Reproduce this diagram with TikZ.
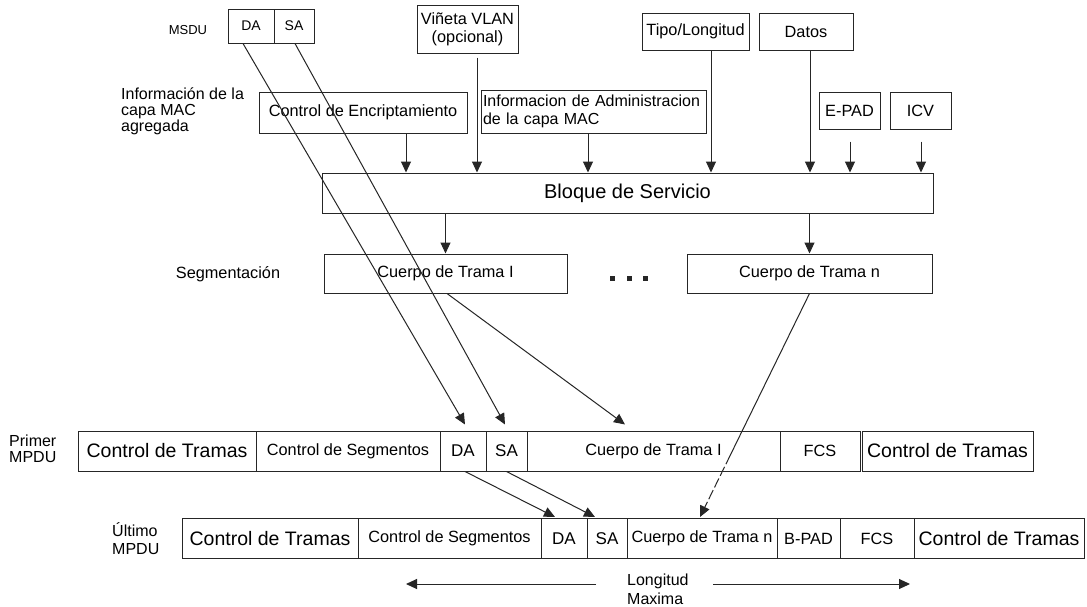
\documentclass[tikz,border=0pt]{standalone}
\usepackage{fontspec}
\setmainfont{Liberation Sans}
\usetikzlibrary{arrows.meta,calc}

\newcommand{\fsz}[1]{\fontsize{#1}{#1}\selectfont}

\tikzset{
  box/.style={draw=black!85, line width=1pt, inner sep=0pt, align=center, font=\fsz{16.3}},
  big/.style={font=\fsz{19.5}},
  arr/.style={draw=black!85, line width=1pt, -{Triangle[length=11pt,width=10pt]}},
  lbl/.style={align=left, anchor=west, inner sep=0pt},
}

\begin{document}
\begin{tikzpicture}[x=1pt,y=-1pt]
\fill[white] (0,0) rectangle (1087,606);
\useasboundingbox (0,0) rectangle (1087,606);

% MSDU header fields
\node[font=\fsz{13}] (msdu) at (188,30) {MSDU};
\node[box, minimum width=46pt, minimum height=34pt, font=\fsz{14}] (mda) at (251,26) {DA};
\node[box, minimum width=40pt, minimum height=34pt, font=\fsz{14}] (msa) at (294,26) {SA};
\node[box, minimum width=101pt, minimum height=48pt, font=\fontsize{16.3}{18}\selectfont] (vlan) at (467.5,29) {Viñeta VLAN\\(opcional)};
\node[box, minimum width=107pt, minimum height=37pt] (tipo) at (695.5,31.5) {Tipo/Longitud};
\node[box, minimum width=94pt, minimum height=37pt] (datos) at (806,31.5) {Datos};

% MAC information added
\node[lbl, font=\fontsize{16}{16}\selectfont] (info) at (121,111) {Información de la\\capa MAC\\agregada};
\node[box, minimum width=208pt, minimum height=41pt] (encr) at (363,112.5) {Control de Encriptamiento};
\node[box, text width=221pt, inner xsep=2pt, align=left, minimum height=43pt,
      font=\fontsize{16}{18.5}\selectfont] (admin) at (593.5,111.5)
      {\mbox{Informacion de Administracion}\\\mbox{de la capa MAC}};
\node[box, minimum width=61pt, minimum height=37pt] (epad) at (849.5,110.5) {E-PAD};
\node[box, minimum width=61pt, minimum height=37pt] (icv) at (920.5,110.5) {ICV};

% Service block
\node[box, minimum width=611pt, minimum height=40pt, font=\fsz{20}] (bloque) at (627.5,193) {Bloque de Servicio};

% Segmentation
\node[font=\fsz{16.3}] (seg) at (228,274) {Segmentación};
\node[box, minimum width=243pt, minimum height=39pt] (segI) at (445.5,273.5) {Cuerpo de Trama I};
\node[box, minimum width=245pt, minimum height=39pt] (segN) at (809.5,273.5) {Cuerpo de Trama n};
\foreach \x in {612.5,629,645.5}
  \fill[black!85] ({\x-2.5},275.5) rectangle ({\x+2.5},280.5);

% First MPDU
\node[lbl, font=\fontsize{16}{16}\selectfont] (primer) at (9,449) {Primer\\MPDU};
\node[box, big, minimum width=178pt, minimum height=40pt] (pCT) at (167,451) {Control de Tramas};
\node[box, minimum width=184pt, minimum height=40pt] (pCS) at (348,451) {Control de Segmentos};
\node[box, minimum width=46pt, minimum height=40pt, font=\fsz{17}] (pDA) at (463,451) {DA};
\node[box, minimum width=41pt, minimum height=40pt, font=\fsz{17}] (pSA) at (506.5,451) {SA};
\node[box, minimum width=253pt, minimum height=40pt] (pCI) at (653.5,451) {Cuerpo de Trama I};
\node[box, minimum width=80pt, minimum height=40pt] (pFCS) at (820,451) {FCS};
\node[box, big, minimum width=171pt, minimum height=40pt] (pCT2) at (947.5,451) {Control de Tramas};

% Last MPDU
\node[lbl, font=\fontsize{16}{18}\selectfont] (ultimo) at (112,539) {Último\\MPDU};
\node[box, big, minimum width=176pt, minimum height=40pt] (uCT) at (270,538.5) {Control de Tramas};
\node[box, minimum width=183pt, minimum height=40pt] (uCS) at (449.5,538.5) {Control de Segmentos};
\node[box, minimum width=46pt, minimum height=40pt, font=\fsz{17}] (uDA) at (564,538.5) {DA};
\node[box, minimum width=40pt, minimum height=40pt, font=\fsz{17}] (uSA) at (607,538.5) {SA};
\node[box, minimum width=150pt, minimum height=40pt] (uCN) at (702,538.5) {Cuerpo de Trama n};
\node[box, minimum width=63pt, minimum height=40pt] (uBP) at (808.5,538.5) {B-PAD};
\node[box, minimum width=74pt, minimum height=40pt] (uFCS) at (877,538.5) {FCS};
\node[box, big, minimum width=170pt, minimum height=40pt] (uCT2) at (999,538.5) {Control de Tramas};

% Maximum length
\node[lbl, font=\fontsize{16}{19}\selectfont] (lmax) at (627,589) {Longitud\\Maxima};
\coordinate (lstart) at (596,584);
\coordinate (lend) at (406,584);
\coordinate (rstart) at (713,584);
\coordinate (rend) at (910,584);
\draw[arr] (lstart) -- (lend);
\draw[arr] (rstart) -- (rend);

% Fields feeding the service block
\coordinate (e1) at ($(encr.south)+(43,0)$);
\coordinate (v1) at ($(vlan.south)+(9.5,4)$);
\coordinate (a1) at ($(admin.south)+(-5.5,0)$);
\coordinate (t1) at ($(tipo.south)+(15.5,0)$);
\coordinate (d1) at ($(datos.south)+(4,0)$);
\coordinate (p1) at ($(epad.south)+(0.5,12)$);
\coordinate (i1) at ($(icv.south)+(0.5,12)$);
\foreach \c in {e1,v1,a1,t1,d1,p1,i1}
  \draw[arr] (\c) -- (\c |- bloque.north);

% Segmentation of the service block
\draw[arr] (segI.north |- bloque.south) -- (segI.north);
\draw[arr] (segN.north |- bloque.south) -- (segN.north);

% Addresses and frame bodies into the MPDUs
\draw[arr] ($(mda.south)+(-8,0)$) -- ($(pDA.north)+(2,-6)$);
\draw[arr] ($(msa.south)+(1,0)$) -- ($(pSA.north)+(-1.5,-6)$);
\draw[arr] ($(segI.south)+(1.5,0)$) -- ($(pCI.north)+(-28.5,-6)$);
\draw[arr, dash pattern=on 190pt off 3pt on 10pt off 3pt on 10pt off 3pt on 10pt off 3pt on 30pt]
  (segN.south) -- ($(uCN.north)+(-2,-1)$);
\draw[arr] ($(pDA.south)+(2,0)$) -- ($(uDA.north)+(-9,-1)$);
\draw[arr] (pSA.south) -- ($(uSA.north)+(-12,-1)$);
\end{tikzpicture}
\end{document}
